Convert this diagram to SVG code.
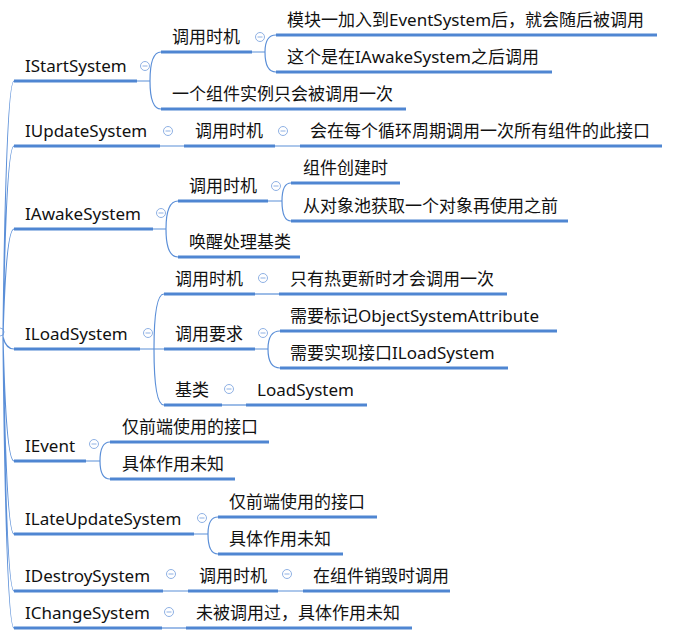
<svg xmlns="http://www.w3.org/2000/svg" width="698" height="639" viewBox="0 0 698 639">
<style>
.t{font-family:"Noto Sans","Noto Sans CJK SC",sans-serif;font-size:17px;fill:#111}
.u{stroke:#4f86d2;stroke-width:3;fill:none}
.c{stroke:#5b8fd8;stroke-width:1.2;fill:none}
.b circle{fill:#fff;stroke:#8fb1e4;stroke-width:1}
.b line{stroke:#8fb1e4;stroke-width:1}
</style>
<defs>
<g id="btn" class="b"><circle r="4.5"/><line x1="-2.5" y1="0" x2="2.5" y2="0"/></g>
</defs>
<rect width="698" height="639" fill="#fff"/>
<g id="connectors">
<circle cx="0" cy="332" r="4" fill="#fff" stroke="#8fb1e4" stroke-width="1"/>
<path class="c" d="M3,337 Q6,81 14,81 M3,337 Q6,146 14,146 M3,337 Q6,229 14,229 M3,337 Q6,349 14,349 M3,337 Q6,461 14,461 M3,337 Q6,534 14,534 M3,337 Q6,591 14,591 M3,337 Q6,628 14,628"/>
<path class="c" d="M137,81 H150 M150,81 Q150,52 161,52 M150,81 Q150,109 161,109"/>
<path class="c" d="M252,52 H265 M265,52 Q265,35 276,35 M265,52 Q265,72 276,72"/>
<path class="c" d="M160,146 H184 M275,146 H300"/>
<path class="c" d="M153,229 H166 M166,229 Q166,201 178,201 M166,229 Q166,257 178,257"/>
<path class="c" d="M268,201 H282 M282,201 Q282,183 291,183 M282,201 Q282,221 291,221"/>
<path class="c" d="M140,349 H154 M154,349 Q154,294 164,294 M154,349 H164 M154,349 Q154,405 164,405"/>
<path class="c" d="M255,294 H279"/>
<path class="c" d="M255,349 H268 M268,349 Q268,331 280,331 M268,349 Q268,368 280,368"/>
<path class="c" d="M222,405 H246"/>
<path class="c" d="M86,461 H100 M100,461 Q100,442 110,442 M100,461 Q100,479 110,479"/>
<path class="c" d="M194,534 H208 M208,534 Q208,517 218,517 M208,534 Q208,554 218,554"/>
<path class="c" d="M163,591 H188 M278,591 H303"/>
<path class="c" d="M162,628 H186"/>
</g>
<g id="IStartSystem"><path class="u" d="M14,81 H137"/><text class="t" x="25" y="72">IStartSystem</text><use href="#btn" x="145" y="66"/></g>
<g id="IUpdateSystem"><path class="u" d="M14,146 H160"/><text class="t" x="25" y="137">IUpdateSystem</text><use href="#btn" x="168" y="131"/></g>
<g id="IAwakeSystem"><path class="u" d="M14,229 H153"/><text class="t" x="25" y="220">IAwakeSystem</text><use href="#btn" x="161" y="213"/></g>
<g id="ILoadSystem"><path class="u" d="M14,349 H140"/><text class="t" x="25" y="340">ILoadSystem</text><use href="#btn" x="148" y="333"/></g>
<g id="IEvent"><path class="u" d="M14,461 H86"/><text class="t" x="25" y="452">IEvent</text><use href="#btn" x="94" y="444"/></g>
<g id="ILateUpdateSystem"><path class="u" d="M14,534 H194"/><text class="t" x="25" y="525">ILateUpdateSystem</text><use href="#btn" x="202" y="518"/></g>
<g id="IDestroySystem"><path class="u" d="M14,591 H163"/><text class="t" x="25" y="582">IDestroySystem</text><use href="#btn" x="171" y="574"/></g>
<g id="IChangeSystem"><path class="u" d="M14,628 H162"/><text class="t" x="25" y="619">IChangeSystem</text><use href="#btn" x="169" y="612"/></g>

<g id="start-timing"><path class="u" d="M161,52 H252"/><text class="t" x="172" y="43">调用时机</text><use href="#btn" x="260" y="37"/></g>
<g id="start-once"><path class="u" d="M161,109 H406"/><text class="t" x="172" y="100">一个组件实例只会被调用一次</text></g>
<g id="start-timing-a"><path class="u" d="M276,35 H657"/><text class="t" x="287" y="26">模块一加入到EventSystem后，就会随后被调用</text></g>
<g id="start-timing-b"><path class="u" d="M276,72 H552"/><text class="t" x="287" y="63">这个是在IAwakeSystem之后调用</text></g>

<g id="update-timing"><path class="u" d="M184,146 H275"/><text class="t" x="195" y="137">调用时机</text><use href="#btn" x="283" y="131"/></g>
<g id="update-timing-a"><path class="u" d="M300,146 H662"/><text class="t" x="310" y="137">会在每个循环周期调用一次所有组件的此接口</text></g>

<g id="awake-timing"><path class="u" d="M178,201 H268"/><text class="t" x="189" y="192">调用时机</text><use href="#btn" x="276" y="186"/></g>
<g id="awake-timing-a"><path class="u" d="M291,183 H400"/><text class="t" x="303" y="174">组件创建时</text></g>
<g id="awake-timing-b"><path class="u" d="M291,221 H568"/><text class="t" x="303" y="212">从对象池获取一个对象再使用之前</text></g>
<g id="awake-base"><path class="u" d="M178,257 H300"/><text class="t" x="189" y="248">唤醒处理基类</text></g>

<g id="load-timing"><path class="u" d="M164,294 H255"/><text class="t" x="175" y="285">调用时机</text><use href="#btn" x="263" y="278"/></g>
<g id="load-timing-a"><path class="u" d="M279,294 H507"/><text class="t" x="290" y="285">只有热更新时才会调用一次</text></g>
<g id="load-req"><path class="u" d="M164,349 H255"/><text class="t" x="175" y="340">调用要求</text><use href="#btn" x="263" y="333"/></g>
<g id="load-req-a"><path class="u" d="M280,331 H557"/><text class="t" x="290" y="322">需要标记ObjectSystemAttribute</text></g>
<g id="load-req-b"><path class="u" d="M280,368 H508"/><text class="t" x="290" y="359">需要实现接口ILoadSystem</text></g>
<g id="load-base"><path class="u" d="M164,405 H222"/><text class="t" x="175" y="396">基类</text><use href="#btn" x="229" y="389"/></g>
<g id="load-base-a"><path class="u" d="M246,405 H367"/><text class="t" x="257" y="396">LoadSystem</text></g>

<g id="event-a"><path class="u" d="M110,442 H269"/><text class="t" x="122" y="433">仅前端使用的接口</text></g>
<g id="event-b"><path class="u" d="M110,479 H235"/><text class="t" x="122" y="470">具体作用未知</text></g>

<g id="late-a"><path class="u" d="M218,517 H377"/><text class="t" x="229" y="508">仅前端使用的接口</text></g>
<g id="late-b"><path class="u" d="M218,554 H343"/><text class="t" x="229" y="545">具体作用未知</text></g>

<g id="destroy-timing"><path class="u" d="M188,591 H278"/><text class="t" x="199" y="582">调用时机</text><use href="#btn" x="287" y="574"/></g>
<g id="destroy-timing-a"><path class="u" d="M303,591 H450"/><text class="t" x="313" y="582">在组件销毁时调用</text></g>

<g id="change-a"><path class="u" d="M186,628 H412"/><text class="t" x="196" y="619">未被调用过，具体作用未知</text></g>
</svg>
